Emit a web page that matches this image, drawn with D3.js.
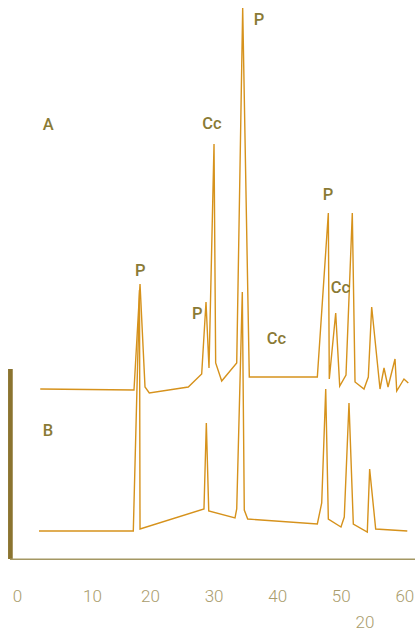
<!DOCTYPE html>
<html>
<head>
<meta charset="utf-8">
<script src="https://cdn.jsdelivr.net/npm/d3@7"></script>
<style>
  html, body { margin: 0; padding: 0; background: #fff; }
  svg { display: block; }
</style>
</head>
<body>
<svg id="chart" width="415" height="633"></svg>
<script>
// Diffraction patterns: 2θ (degrees) and intensity above each trace's baseline
const twoThetaA = [3.1, 17.24, 18.28, 19.14, 19.88, 26.02, 28.13, 28.81, 29.28, 30.07, 30.33, 31.28, 33.64, 34.58, 35.62, 46.32, 48.05, 48.20, 49.21, 49.84, 50.83, 51.82, 52.25, 53.66, 54.34, 54.87, 56.18, 56.81, 57.44, 58.54, 58.81, 59.95, 60.63];
const intensityA = [0, -1, 105, 2, -4, 2, 15, 87, 21, 245, 26, 8, 26, 381, 12, 12, 176, 10, 76, 3, 14, 176, 7, 0, 12, 82, 0, 21, 2, 30, -2, 10, 6];

const twoThetaB = [2.93, 17.12, 18.19, 18.28, 28.49, 28.86, 29.24, 33.37, 33.64, 34.52, 34.83, 35.37, 46.32, 47.01, 47.64, 48.05, 50.04, 50.56, 51.30, 51.98, 54.18, 54.55, 55.50, 60.47];
const intensityB = [0, 0, 241, 2, 22, 108, 20, 13, 22, 239, 21, 12, 7, 28, 142, 12, 4, 14, 128, 7, -1, 62, 2, 0];

const traceOffsets = [170, 28];

// Sample names
const traceNames = ["A", "B"];
const traceNameX = [4.17, 4.13];
const traceNameY = [434.5, 129];

// Phase labels (P = portlandite, Cc = calcite)
const peakLabels = ["P", "Cc", "P", "P", "P", "Cc", "Cc"];
const peakLabelX = [37.15, 29.76, 18.33, 27.42, 47.99, 49.96, 39.87];
const peakLabelY = [539.7, 435.5, 289, 245.7, 365.3, 271.5, 221.3];

const tickValues = [0, 10, 20, 30, 40, 50, 60];
const axisTitle = "20";

const traceColor = "#d6921c";
const labelColor = "#8a7a35";

const svg = d3.select("#chart");

// The printed 2θ scale is not uniform below 20°
const x = d3.scaleLinear().domain([0, 10, 20, 60]).range([17, 92, 150, 404.3]);
const y = d3.scaleLinear().domain([0, 550]).range([559, 9]);

// Left bar
svg.append("line")
  .attr("x1", 10.4).attr("x2", 10.4)
  .attr("y1", 369).attr("y2", 559)
  .attr("stroke", "#8b7430").attr("stroke-width", 4.7);

// Bottom axis
const axis = d3.axisBottom(x).tickValues(tickValues).tickSize(0).tickPadding(30.3).tickFormat(d3.format("d"));
const gx = svg.append("g").attr("transform", "translate(0,559.3)").call(axis);
gx.select(".domain").remove();
gx.selectAll("text")
  .attr("fill", "#a99c6c")
  .style("font-family", "Roboto, 'Liberation Sans', sans-serif")
  .style("font-weight", 300)
  .style("font-size", "17px");

svg.append("line")
  .attr("x1", 10).attr("x2", 415)
  .attr("y1", 559.3).attr("y2", 559.3)
  .attr("stroke", "#a49763").attr("stroke-width", 1.5);

svg.append("text")
  .attr("x", 365).attr("y", 628)
  .attr("text-anchor", "middle")
  .attr("fill", "#a99c6c")
  .style("font-family", "Roboto, 'Liberation Sans', sans-serif")
  .style("font-weight", 300)
  .style("font-size", "17px")
  .text(axisTitle);

// Traces
const traces = [
  { t: twoThetaA, v: intensityA, off: traceOffsets[0] },
  { t: twoThetaB, v: intensityB, off: traceOffsets[1] }
];
const line = d3.line().x(d => x(d[0])).y(d => y(d[1]));
traces.forEach(tr => {
  const pts = tr.t.map((t, i) => [t, tr.v[i] + tr.off]);
  svg.append("path")
    .attr("d", line(pts))
    .attr("fill", "none")
    .attr("stroke", traceColor)
    .attr("stroke-width", 1.4)
    .attr("stroke-linejoin", "miter");
});

// Text labels
function label(txt, tx, ty) {
  svg.append("text")
    .attr("x", x(tx)).attr("y", y(ty))
    .attr("dy", "0.36em")
    .attr("text-anchor", "middle")
    .attr("fill", labelColor)
    .style("font-family", "Roboto, 'Liberation Sans', sans-serif")
    .style("font-weight", 500)
    .style("font-size", "16.5px")
    .text(txt);
}
traceNames.forEach((n, i) => label(n, traceNameX[i], traceNameY[i]));
peakLabels.forEach((n, i) => label(n, peakLabelX[i], peakLabelY[i]));
</script>
</body>
</html>
